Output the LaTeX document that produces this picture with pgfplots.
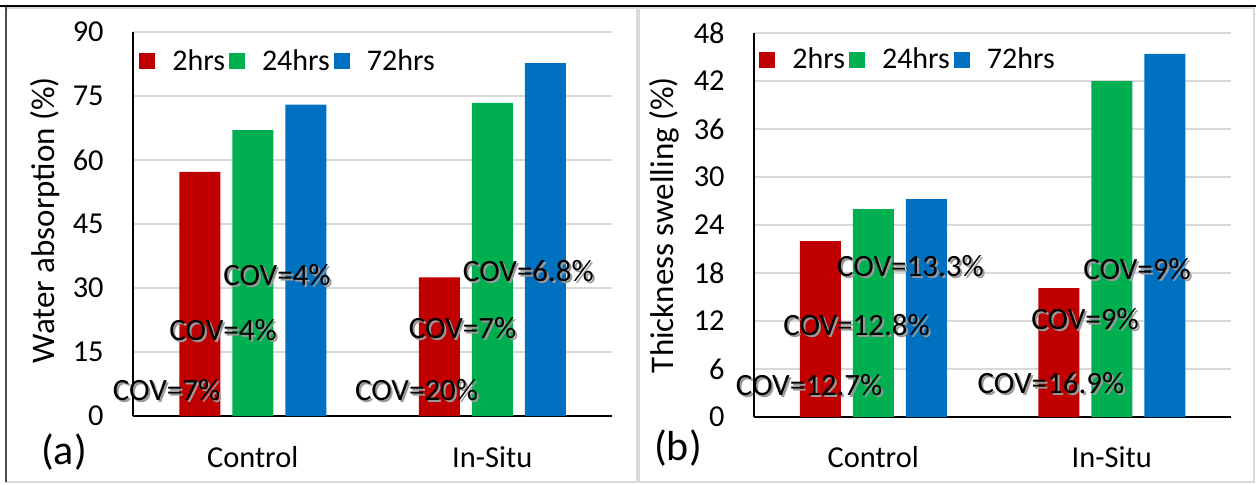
\documentclass[border=0pt]{standalone}
\usepackage{fontspec}
\setmainfont{Carlito}
\usepackage{pgfplots}
\pgfplotsset{compat=1.18}
\definecolor{cred}{HTML}{C00000}
\definecolor{cgreen}{HTML}{00B050}
\definecolor{cblue}{HTML}{0070C0}
\definecolor{gridc}{HTML}{D9D9D9}
\tikzset{
  cov/.style={font=\fontsize{15.5pt}{18pt}\selectfont, inner sep=0pt, anchor=center, text=black},
  covs/.style={font=\fontsize{15.5pt}{18pt}\selectfont, inner sep=0pt, anchor=center, text=black!40, xshift=1pt, yshift=-1pt},
}
\newcommand\cov[3]{\node[covs] at (axis cs:#1,#2) {#3};\node[cov] at (axis cs:#1,#2) {#3};}
\pgfplotsset{
  mystyle/.style={
    scale only axis, height=192pt,
    anchor=south west,
    axis lines*=left, axis line style={black, line width=1pt, -},
    ybar=6pt, bar width=20.5pt,
    xmin=-0.5, xmax=1.5, ymin=0,
    xtick={0,1}, xticklabels={Control,In-Situ},
    major tick length=0pt,
    ymajorgrids, grid style={gridc, line width=1pt},
    /pgf/number format/assume math mode=true,
    yticklabel style={anchor=east, inner sep=0pt, xshift=-14.5pt, font=\fontsize{15.2pt}{17pt}\selectfont},
    xticklabel style={anchor=base, inner sep=0pt, font=\fontsize{15.2pt}{18pt}\selectfont},
    ylabel style={anchor=center, font=\fontsize{16.5pt}{20pt}\selectfont},
    legend columns=3,
    legend style={draw=none, fill=none, inner sep=0pt, anchor=west,
      font=\fontsize{15pt}{18pt}\selectfont,
      nodes={inner sep=2pt},
      /tikz/every odd column/.append style={column sep=6.5pt}},
    legend image code/.code={\fill[##1] (0pt,-4pt) rectangle (8pt,4pt);},
    clip=false,
  }
}
\begin{document}
\begin{tikzpicture}
\path[use as bounding box] (0,0) rectangle (628pt,242pt);
\draw[gridc, line width=1.2pt] (3pt,1pt) rectangle (318.5pt,238pt);
\draw[gridc, line width=1.2pt] (319.5pt,1pt) rectangle (627pt,238pt);
\draw[black!70, line width=0.6pt] (3pt,1pt) -- (3pt,239pt);
\draw[black, line width=1pt] (0pt,239pt) -- (628pt,239pt);

\begin{axis}[mystyle, at={(66.5pt,34pt)}, width=239.5pt,
  ymax=90, ytick={0,15,...,90},
  xticklabel style={yshift=-25.5pt},
  ylabel={Water absorption (\%)},
  ylabel style={at={(axis description cs:-0.1837,0.5104)}},
  legend style={at={(axis description cs:0.0125,0.924)}},
]
\addplot[fill=cred, draw=none] coordinates {(0,57.2) (1,32.5)};
\addplot[fill=cgreen, draw=none] coordinates {(0,67.0) (1,73.4)};
\addplot[fill=cblue, draw=none] coordinates {(0,73.0) (1,82.7)};
\legend{2hrs,24hrs,72hrs}
\cov{-0.360}{6.1}{COV=7\%}
\cov{-0.124}{20.2}{COV=4\%}
\cov{0.101}{33.0}{COV=4\%}
\cov{0.684}{6.1}{COV=20\%}
\cov{0.876}{20.6}{COV=7\%}
\cov{1.151}{34.0}{COV=6.8\%}
\end{axis}

\begin{axis}[mystyle, at={(377pt,33.5pt)}, width=238.5pt,
  ymax=48, ytick={0,6,...,48},
  xticklabel style={yshift=-25pt},
  ylabel={Thickness swelling (\%)},
  ylabel style={at={(axis description cs:-0.1887,0.5)}},
  legend style={at={(axis description cs:0.0105,0.93)}},
]
\addplot[fill=cred, draw=none] coordinates {(0,22.0) (1,16.1)};
\addplot[fill=cgreen, draw=none] coordinates {(0,26.0) (1,42.0)};
\addplot[fill=cblue, draw=none] coordinates {(0,27.25) (1,45.4)};
\legend{2hrs,24hrs,72hrs}
\cov{-0.269}{4.0}{COV=12.7\%}
\cov{-0.070}{11.5}{COV=12.8\%}
\cov{0.156}{18.9}{COV=13.3\%}
\cov{0.745}{4.3}{COV=16.9\%}
\cov{0.888}{12.25}{COV=9\%}
\cov{1.106}{18.5}{COV=9\%}
\end{axis}

\node[font=\fontsize{21pt}{24pt}\selectfont, inner sep=0pt] at (32pt,16pt) {(a)};
\node[font=\fontsize{21pt}{24pt}\selectfont, inner sep=0pt] at (339pt,18pt) {(b)};
\end{tikzpicture}
\end{document}
